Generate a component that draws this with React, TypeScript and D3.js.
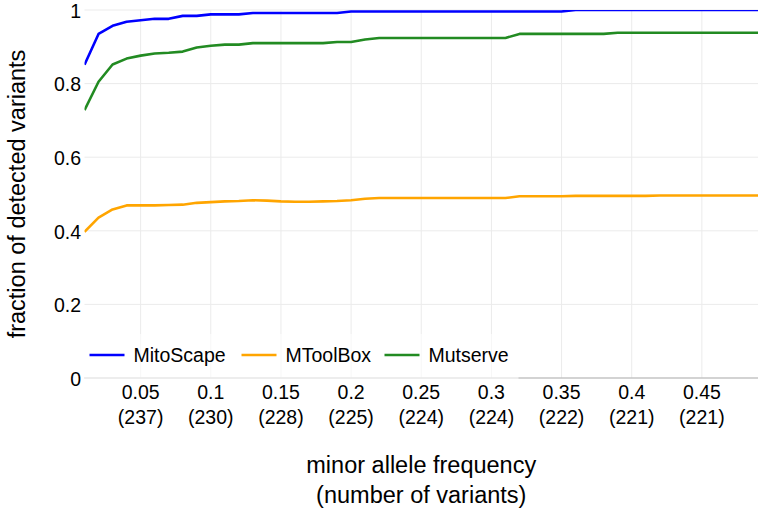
import * as d3 from 'd3';
import React, { useRef, useEffect } from 'react';

// minor allele frequency thresholds
const freqs = [
  0.01, 0.02, 0.03, 0.04, 0.05, 0.06, 0.07, 0.08, 0.09, 0.10,
  0.11, 0.12, 0.13, 0.14, 0.15, 0.16, 0.17, 0.18, 0.19, 0.20,
  0.21, 0.22, 0.23, 0.24, 0.25, 0.26, 0.27, 0.28, 0.29, 0.30,
  0.31, 0.32, 0.33, 0.34, 0.35, 0.36, 0.37, 0.38, 0.39, 0.40,
  0.41, 0.42, 0.43, 0.44, 0.45, 0.46, 0.47, 0.48, 0.49,
];

const mitoScape = [
  0.851, 0.935, 0.957, 0.968, 0.972, 0.976, 0.976, 0.984, 0.984, 0.988,
  0.988, 0.988, 0.992, 0.992, 0.992, 0.992, 0.992, 0.992, 0.992, 0.996,
  0.996, 0.996, 0.996, 0.996, 0.996, 0.996, 0.996, 0.996, 0.996, 0.996,
  0.996, 0.996, 0.996, 0.996, 0.996, 1.0, 1.0, 1.0, 1.0, 1.0,
  1.0, 1.0, 1.0, 1.0, 1.0, 1.0, 1.0, 1.0, 1.0,
];

const mToolBox = [
  0.397, 0.436, 0.458, 0.469, 0.469, 0.469, 0.470, 0.471, 0.476, 0.478,
  0.480, 0.481, 0.483, 0.482, 0.480, 0.479, 0.479, 0.480, 0.481, 0.483,
  0.487, 0.489, 0.489, 0.489, 0.489, 0.489, 0.489, 0.489, 0.489, 0.489,
  0.489, 0.494, 0.494, 0.494, 0.494, 0.495, 0.495, 0.495, 0.495, 0.495,
  0.495, 0.496, 0.496, 0.496, 0.496, 0.496, 0.496, 0.496, 0.496,
];

const mutserve = [
  0.728, 0.805, 0.852, 0.868, 0.876, 0.882, 0.884, 0.887, 0.898, 0.903,
  0.906, 0.906, 0.910, 0.910, 0.910, 0.910, 0.910, 0.910, 0.913, 0.913,
  0.920, 0.924, 0.924, 0.924, 0.924, 0.924, 0.924, 0.924, 0.924, 0.924,
  0.924, 0.935, 0.935, 0.935, 0.935, 0.935, 0.935, 0.935, 0.938, 0.938,
  0.938, 0.938, 0.938, 0.938, 0.938, 0.938, 0.938, 0.938, 0.938,
];

const seriesNames = ['MitoScape', 'MToolBox', 'Mutserve'];
const seriesColors = ['#0000ff', '#ffa500', '#228b22'];

const xTicks = [0.05, 0.1, 0.15, 0.2, 0.25, 0.3, 0.35, 0.4, 0.45];
const xTickLabels = ['0.05', '0.1', '0.15', '0.2', '0.25', '0.3', '0.35', '0.4', '0.45'];
const variantCounts = ['(237)', '(230)', '(228)', '(225)', '(224)', '(224)', '(222)', '(221)', '(221)'];
const yTicks = [0, 0.2, 0.4, 0.6, 0.8, 1];
const yTickLabels = ['0', '0.2', '0.4', '0.6', '0.8', '1'];

const W = 765, H = 510;
const left = 84.5, right = 758, top = 10, bottom = 378;
const font = '"Liberation Sans", Arial, sans-serif';

function App() {
  const ref = useRef<SVGSVGElement>(null);

  useEffect(() => {
    const svg = d3.select(ref.current);
    svg.selectAll('*').remove();

    const x = d3.scaleLinear().domain([0.01, 0.49]).range([left, right]);
    const y = d3.scaleLinear().domain([0, 1]).range([bottom, top]);

    svg.append('defs').append('clipPath').attr('id', 'plotclip')
      .append('rect')
      .attr('x', left).attr('y', top)
      .attr('width', right - left).attr('height', bottom - top);

    // grid
    svg.append('g').selectAll('line').data(xTicks).enter().append('line')
      .attr('x1', d => x(d)).attr('x2', d => x(d))
      .attr('y1', top).attr('y2', bottom)
      .attr('stroke', '#ebebeb').attr('stroke-width', 1);
    svg.append('g').selectAll('line').data(yTicks.filter(d => d > 0)).enter().append('line')
      .attr('x1', left).attr('x2', right)
      .attr('y1', d => y(d)).attr('y2', d => y(d))
      .attr('stroke', '#ebebeb').attr('stroke-width', 1);

    // zero line
    svg.append('line')
      .attr('x1', left).attr('x2', right)
      .attr('y1', y(0)).attr('y2', y(0))
      .attr('stroke', '#c4c4c4').attr('stroke-width', 1.5);

    // y tick labels
    svg.append('g').selectAll('text').data(yTicks).enter().append('text')
      .attr('x', 81).attr('y', d => y(d) + 1)
      .attr('dy', '0.35em')
      .attr('text-anchor', 'end')
      .style('font-family', font).style('font-size', '19.5px').attr('fill', '#000')
      .text((d, i) => yTickLabels[i]);

    // x tick labels
    const xl = svg.append('g');
    xl.selectAll('text.v').data(xTicks).enter().append('text')
      .attr('class', 'v')
      .attr('x', d => x(d)).attr('y', 399)
      .attr('text-anchor', 'middle')
      .style('font-family', font).style('font-size', '19.5px').attr('fill', '#000')
      .text((d, i) => xTickLabels[i]);
    xl.selectAll('text.n').data(xTicks).enter().append('text')
      .attr('class', 'n')
      .attr('x', d => x(d)).attr('y', 424)
      .attr('text-anchor', 'middle')
      .style('font-family', font).style('font-size', '19.5px').attr('fill', '#000')
      .text((d, i) => variantCounts[i]);

    // lines
    const allSeries = [mitoScape, mToolBox, mutserve];
    const line = d3.line<number>()
      .x((d, i) => x(freqs[i]))
      .y(d => y(d));
    svg.append('g').attr('clip-path', 'url(#plotclip)')
      .selectAll('path').data(allSeries).enter().append('path')
      .attr('d', d => line(d))
      .attr('fill', 'none')
      .attr('stroke', (d, i) => seriesColors[i])
      .attr('stroke-width', 2.6)
      .attr('stroke-linejoin', 'round');

    // legend
    const lg = svg.append('g');
    lg.append('rect')
      .attr('x', left).attr('y', 334)
      .attr('width', 434).attr('height', 46)
      .attr('fill', 'white').attr('fill-opacity', 0.6);
    const offsets = [5, 157, 300];
    seriesNames.forEach((name, i) => {
      const gx = left + offsets[i];
      lg.append('line')
        .attr('x1', gx).attr('x2', gx + 35)
        .attr('y1', 355).attr('y2', 355)
        .attr('stroke', seriesColors[i]).attr('stroke-width', 2.6);
      lg.append('text')
        .attr('x', gx + 44).attr('y', 362)
        .style('font-family', font).style('font-size', '19.5px').attr('fill', '#000')
        .text(name);
    });

    // axis titles
    svg.append('text')
      .attr('x', (left + right) / 2).attr('y', 473)
      .attr('text-anchor', 'middle')
      .style('font-family', font).style('font-size', '23.5px').attr('fill', '#000')
      .text('minor allele frequency');
    svg.append('text')
      .attr('x', (left + right) / 2).attr('y', 503)
      .attr('text-anchor', 'middle')
      .style('font-family', font).style('font-size', '23.5px').attr('fill', '#000')
      .text('(number of variants)');
    svg.append('text')
      .attr('transform', `translate(25, ${(top + bottom) / 2}) rotate(-90)`)
      .attr('text-anchor', 'middle')
      .style('font-family', font).style('font-size', '23.5px').attr('fill', '#000')
      .text('fraction of detected variants');
  }, []);

  return (
    <svg ref={ref} width={W} height={H}
      style={{ position: 'absolute', left: 0, top: 0, background: 'white' }}>
    </svg>
  );
}

export default App;
